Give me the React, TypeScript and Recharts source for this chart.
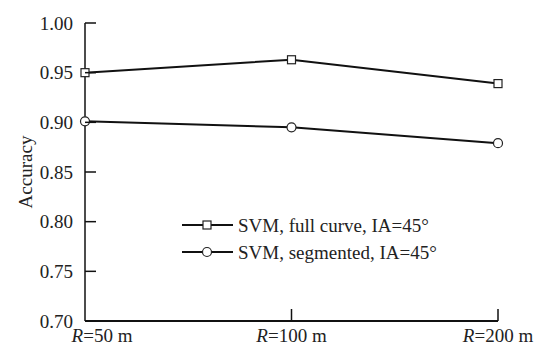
import React from "react";
import { CartesianGrid, Legend, Line, LineChart, XAxis, YAxis } from "recharts";

const radii = ["50", "100", "200"];
const fullCurve = [0.95, 0.963, 0.939];
const segmented = [0.901, 0.895, 0.879];
const yTicks = [0.7, 0.75, 0.8, 0.85, 0.9, 0.95, 1.0];
const seriesNames = ["SVM, full curve, IA=45°", "SVM, segmented, IA=45°"];

const data = radii.map((r, i) => ({ r, full: fullCurve[i], seg: segmented[i] }));

const FONT = "'Liberation Serif', 'Times New Roman', serif";
const FS = 19;

const SquareDot = (props: any) => {
  const { cx, cy } = props;
  if (cx == null || cy == null) return null;
  return <rect x={cx - 4} y={cy - 4} width={8} height={8} fill="#fff" stroke="#222" strokeWidth={1.2} />;
};

const CircleDot = (props: any) => {
  const { cx, cy } = props;
  if (cx == null || cy == null) return null;
  return <circle cx={cx} cy={cy} r={4.5} fill="#fff" stroke="#222" strokeWidth={1.2} />;
};

const YTick = (props: any) => {
  const { x, y, payload } = props;
  return (
    <g>
      <line x1={x} x2={x + 11} y1={y} y2={y} stroke="#111" strokeWidth={1.5} />
      <text x={x - 12} y={y} dy="0.35em" textAnchor="end" fontFamily={FONT} fontSize={FS} fill="#222">
        {Number(payload.value).toFixed(2)}
      </text>
    </g>
  );
};

const XTick = (props: any) => {
  const { x, y, payload, index } = props;
  const shift = index === 0 ? 17 : 0;
  return (
    <g>
      {index > 0 && <line x1={x} x2={x} y1={y} y2={y - 12} stroke="#111" strokeWidth={1.5} />}
      <text x={x + shift} y={y + 21} textAnchor="middle" fontFamily={FONT} fontSize={FS} fill="#222">
        <tspan fontStyle="italic">R</tspan>
        <tspan>={payload.value} m</tspan>
      </text>
    </g>
  );
};

const LegendContent = () => (
  <svg width={300} height={60} style={{ display: "block" }}>
    {seriesNames.map((name, i) => {
      const y = 12 + i * 27;
      return (
        <g key={name}>
          <line x1={2} x2={53} y1={y} y2={y} stroke="#111" strokeWidth={2} />
          {i === 0 ? (
            <rect x={23} y={y - 4} width={8} height={8} fill="#fff" stroke="#222" strokeWidth={1.2} />
          ) : (
            <circle cx={27} cy={y} r={4.5} fill="#fff" stroke="#222" strokeWidth={1.2} />
          )}
          <text x={58} y={y} dy="0.35em" fontFamily={FONT} fontSize={FS} fill="#222">
            {name}
          </text>
        </g>
      );
    })}
  </svg>
);

export default function App() {
  return (
    <div style={{ position: "absolute", left: 0, top: 0, background: "#fff" }}>
      <LineChart width={539} height={346} data={data} margin={{ top: 23, right: 41, bottom: 0, left: 0 }}>
        <CartesianGrid stroke="none" />
        <XAxis
          dataKey="r"
          height={25}
          tickSize={0}
          tickMargin={0}
          tick={<XTick />}
          axisLine={{ stroke: "#111", strokeWidth: 2 }}
          tickLine={false}
        />
        <YAxis
          width={85}
          domain={[0.7, 1.0]}
          ticks={yTicks}
          tickSize={0}
          tickMargin={0}
          tick={<YTick />}
          axisLine={{ stroke: "#111", strokeWidth: 1.5 }}
          tickLine={false}
          label={({ viewBox }: any) => (
            <text
              x={25}
              y={viewBox.y + viewBox.height / 2}
              transform={`rotate(-90, 25, ${viewBox.y + viewBox.height / 2})`}
              textAnchor="middle"
              dy="0.35em"
              fontFamily={FONT}
              fontSize={FS}
              fill="#222"
            >
              Accuracy
            </text>
          )}
        />
        <Legend
          layout="horizontal"
          verticalAlign="middle"
          align="center"
          content={<LegendContent />}
          wrapperStyle={{ position: "absolute", left: 180, top: 213, width: 300, height: 60 }}
        />
        <Line
          dataKey="full"
          name={seriesNames[0]}
          stroke="#111"
          strokeWidth={2}
          dot={<SquareDot />}
          activeDot={false}
          isAnimationActive={false}
        />
        <Line
          dataKey="seg"
          name={seriesNames[1]}
          stroke="#111"
          strokeWidth={2}
          dot={<CircleDot />}
          activeDot={false}
          isAnimationActive={false}
        />
      </LineChart>
    </div>
  );
}
